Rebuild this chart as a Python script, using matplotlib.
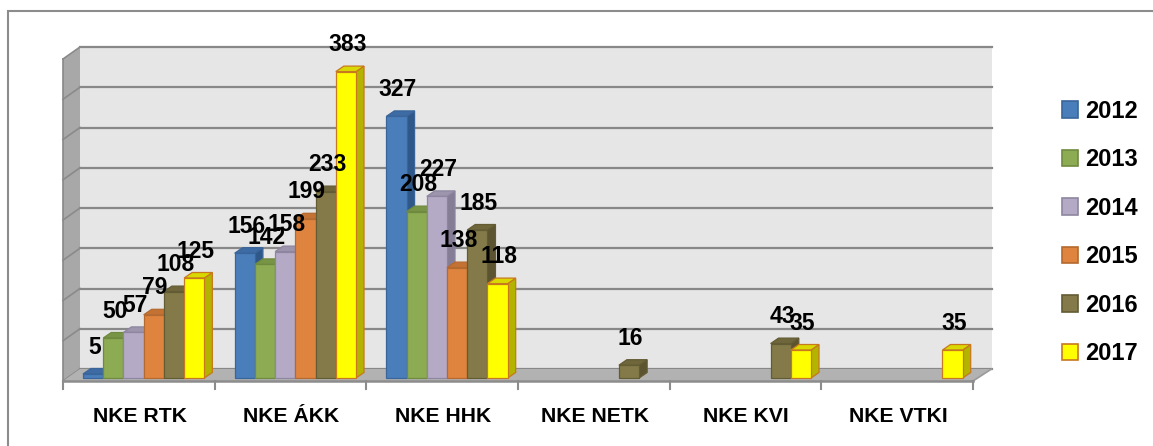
import numpy as np
import matplotlib
matplotlib.use("Agg")
from matplotlib import pyplot as plt
from matplotlib.patches import Polygon, Rectangle, Patch

plt.rcParams['font.family'] = ['Liberation Sans', 'DejaVu Sans']

categories = ['NKE RTK', 'NKE ÁKK', 'NKE HHK', 'NKE NETK', 'NKE KVI', 'NKE VTKI']
years = ['2012', '2013', '2014', '2015', '2016', '2017']
v2012 = [5, 156, 327, 0, 0, 0]
v2013 = [50, 142, 208, 0, 0, 0]
v2014 = [57, 158, 227, 0, 0, 0]
v2015 = [79, 199, 138, 0, 0, 0]
v2016 = [108, 233, 185, 16, 43, 0]
v2017 = [125, 383, 118, 0, 35, 35]
series = [v2012, v2013, v2014, v2015, v2016, v2017]
y_max = 400
y_step = 50

# front, edge, top, side
colors = [
    ('#4a7ebb', '#3a659a', '#3e6ba4', '#2f5889'),
    ('#8cab52', '#6f8a3e', '#789445', '#637c37'),
    ('#b4aac6', '#8e86a0', '#9d94ae', '#857d96'),
    ('#de843f', '#b4692f', '#c47234', '#a9612b'),
    ('#847a49', '#635b34', '#6f663c', '#5c5431'),
    ('#ffff00', '#c8781e', '#d9d900', '#b3b300'),
]

W, H = 1153, 446
fig = plt.figure(figsize=(W / 100, H / 100), dpi=100)
ax = fig.add_axes([0, 0, 1, 1])

# pixel geometry -> data units
px_x = 910 / 6.0      # pixels per category
px_y = 0.8            # pixels per value unit
x0 = -0.5 - 63 / px_x
ax.set_xlim(x0, x0 + W / px_x)
ax.set_ylim(-68 / px_y, (H - 68) / px_y)
ax.axis('off')

n = len(categories)
dfx, dfy = 17 / px_x, 12 / px_y       # full depth of the floor
dbx, dby = 8 / px_x, 5.5 / px_y       # depth of a bar
floor_front = -3.75
floor_back = floor_front + dfy
wall_scale = (322 / y_max) / px_y
wall_top = floor_back + y_max * wall_scale
left = -0.5
right = n - 0.5
grid_c = '#888888'

# back wall
ax.add_patch(Polygon([(left + dfx, floor_back), (right + dfx + 0.01, floor_back),
                      (right + dfx + 0.01, wall_top), (left + dfx, wall_top)],
                     closed=True, fc='#e6e6e6', ec='none', zorder=1))
# left side wall
ax.add_patch(Polygon([(left, floor_front), (left + dfx, floor_back),
                      (left + dfx, wall_top), (left, wall_top - dfy)],
                     closed=True, fc='#a8a8a8', ec='none', zorder=1))
ax.plot([left, left], [floor_front, wall_top - dfy], color=grid_c, lw=1.2, zorder=2)
for v in range(0, y_max + 1, y_step):
    yb = floor_back + v * wall_scale
    ax.plot([left + dfx, right + dfx + 0.01], [yb, yb], color=grid_c, lw=1.6, zorder=2)
    ax.plot([left, left + dfx], [yb - dfy, yb], color='#8a8a8a', lw=1.2, zorder=2)

# floor
ax.add_patch(Polygon([(left, floor_front), (left + dfx, floor_back),
                      (right + dfx + 0.01, floor_back), (right, floor_front)],
                     closed=True, fc='#b2b2b2', ec='none', zorder=2))
ax.plot([right, right + dfx + 0.01], [floor_front, floor_back], color='#9a9a9a', lw=1.2, zorder=2)
ax.plot([left, right], [floor_front, floor_front], color='#8c8c8c', lw=1.8, zorder=2)
for i in range(n + 1):
    ax.plot([left + i, left + i], [floor_front, floor_front - 10], color='#8c8c8c', lw=1.5, zorder=2)

for i, c in enumerate(categories):
    ax.text(i + 0.005, -48.75, c, ha='center', va='center', fontsize=15.2,
            fontweight='bold', color='black')

# bars
w = 0.8 / len(series)
shift = 0.032
x_idx = np.arange(n)
for j, vals in enumerate(series):
    fc, ec, tc, sc = colors[j]
    xs = x_idx - 0.4 + shift + j * w
    bars = ax.bar(xs, vals, width=w, align='edge', color=fc, edgecolor=ec, linewidth=0.9)
    for i, (rect, v) in enumerate(zip(bars, vals)):
        z = 3 + i * 20 + j * 3
        if v <= 0:
            rect.set_visible(False)
            continue
        rect.set_zorder(z + 2)
        xl = xs[i]
        ax.add_patch(Polygon([(xl + w, 0), (xl + w + dbx, dby), (xl + w + dbx, v + dby), (xl + w, v)],
                             closed=True, fc=sc, ec=ec, lw=0.9, zorder=z))
        ax.add_patch(Polygon([(xl, v), (xl + dbx, v + dby), (xl + w + dbx, v + dby), (xl + w, v)],
                             closed=True, fc=tc, ec=ec, lw=0.9, zorder=z + 1))
        ax.text(xl + w / 2 + dbx / 6, v + 33.75, str(v), ha='center', va='center',
                fontsize=16.5, fontweight='bold', color='black', zorder=200)

# legend
handles = [Patch(facecolor=colors[j][0], edgecolor=colors[j][1], linewidth=1.2) for j in range(len(years))]
fig.legend(handles, years, loc='center left', bbox_to_anchor=(1062 / W, 1 - 232.5 / H),
           frameon=False, borderpad=0, borderaxespad=0, labelspacing=1.08,
           handlelength=0.68, handleheight=0.68, handletextpad=0.3,
           prop={'weight': 'bold', 'size': 17})

# outer chart border
fig.patches.append(Rectangle((8 / W, -0.1), 1.2, 1.1 - 11 / H, transform=fig.transFigure,
                             fill=False, ec='#8c8c8c', lw=1.5))

fig.savefig('out.png', dpi=100)
